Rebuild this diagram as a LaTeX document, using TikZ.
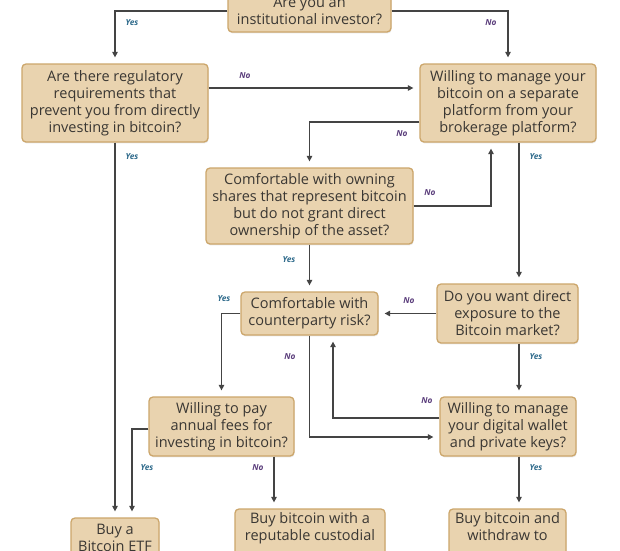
\documentclass[tikz,border=0pt]{standalone}
\usepackage{fontspec}
\setmainfont{Open Sans}
\usetikzlibrary{arrows.meta,shadows}
\definecolor{boxfill}{HTML}{E9D3AF}
\definecolor{boxline}{HTML}{CCA66B}
\definecolor{txtcol}{HTML}{3A3733}
\definecolor{wirecol}{HTML}{444444}
\definecolor{yescol}{HTML}{2F6B8C}
\definecolor{nocol}{HTML}{5B3E7C}
\begin{document}
\begin{tikzpicture}[x=1pt,y=-1pt,
  qbox/.style={draw=boxline, fill=boxfill, line width=1.3pt, rounded corners=4pt,
    align=center, text=txtcol, inner sep=0pt, font=\fontsize{14.5}{17}\selectfont,
    drop shadow={opacity=0.18, shadow xshift=0.6pt, shadow yshift=-1.4pt}},
  wire/.style={draw=wirecol, line width=1.25pt, -{Triangle[length=5.5pt,width=5.5pt]}, shorten >=6pt},
  yeslab/.style={text=yescol, font=\fontsize{8.3}{10}\selectfont\bfseries\itshape, inner sep=0pt},
  nolab/.style={text=nocol, font=\fontsize{8.3}{10}\selectfont\bfseries\itshape, inner sep=0pt}
]
\useasboundingbox (0,0) rectangle (620,550);
\fill[white] (0,0) rectangle (620,550);
\clip (0,0) rectangle (620,550);

% boxes
\node[qbox, minimum width=163pt, minimum height=42pt] (top) at (309.5,11) {Are you an\\institutional investor?};
\node[qbox, minimum width=186pt, minimum height=78pt] (reg) at (115,103) {Are there regulatory\\requirements that\\prevent you from directly\\investing in bitcoin?};
\node[qbox, minimum width=176pt, minimum height=78pt] (sep) at (508,103) {Willing to manage your\\bitcoin on a separate\\platform from your\\brokerage platform?};
\node[qbox, minimum width=207pt, minimum height=76pt] (own) at (309.5,206) {Comfortable with owning\\shares that represent bitcoin\\but do not grant direct\\ownership of the asset?};
\node[qbox, minimum width=137pt, minimum height=43pt] (cp) at (309.5,313.5) {Comfortable with\\counterparty risk?};
\node[qbox, minimum width=141pt, minimum height=59pt] (dyw) at (507.5,313.5) {Do you want direct\\exposure to the\\Bitcoin market?};
\node[qbox, minimum width=145pt, minimum height=59pt] (fees) at (221.5,426.5) {Willing to pay\\annual fees for\\investing in bitcoin?};
\node[qbox, minimum width=136pt, minimum height=59pt] (wal) at (508,426.5) {Willing to manage\\your digital wallet\\and private keys?};
\node[qbox, minimum width=88pt, minimum height=40pt] (etf) at (115,538) {Buy a\\Bitcoin ETF};
\node[qbox, minimum width=150pt, minimum height=58pt] (cust) at (310,538) {Buy bitcoin with a\\reputable custodial\\\strut};
\node[qbox, minimum width=117pt, minimum height=58pt] (self) at (507.5,538) {Buy bitcoin and\\withdraw to\\\strut};

% helper coordinates
\coordinate (col) at (519,0);
\coordinate (r1) at (0,88);
\coordinate (r2) at (0,122);
\coordinate (c2) at (491,0);
\coordinate (r3) at (0,437);
\coordinate (r4) at (0,418);
\coordinate (c3) at (333,0);
\coordinate (r5) at (0,429);
\coordinate (c4) at (132,0);
\coordinate (c5) at (274,0);

% connectors
\draw[wire] (top.west) -| (reg.north);
\draw[wire] (top.east) -| (sep.north);
\draw[wire] (reg.east |- r1) -- (sep.west |- r1);
\draw[wire] (sep.west |- r2) -| (own.north);
\draw[wire] (reg.south) -- (etf.north);
\draw[wire] (sep.south -| col) -- (dyw.north -| col);
\draw[wire] (own.east) -| (sep.south -| c2);
\draw[wire] (own.south) -- (cp.north);
\draw[wire] (dyw.west) -- (cp.east);
\draw[wire] (cp.west) -| (fees.north);
\draw[wire] (cp.south) |- (wal.west |- r3);
\draw[wire] (wal.west |- r4) -| (cp.south -| c3);
\draw[wire] (dyw.south -| col) -- (wal.north -| col);
\draw[wire] (fees.west |- r5) -| (etf.north -| c4);
\draw[wire] (fees.south -| c5) -- (cust.north -| c5);
\draw[wire] (wal.south -| col) -- (self.north -| col);

% labels
\node[yeslab] (l1) at (132,23) {Yes};
\node[nolab] (l2) at (491,23) {No};
\node[nolab] (l3) at (245,76) {No};
\node[nolab] (l4) at (402,134) {No};
\node[yeslab] (l5) at (132,157) {Yes};
\node[yeslab] (l6) at (536,157) {Yes};
\node[nolab] (l7) at (430,193) {No};
\node[yeslab] (l8) at (289,260) {Yes};
\node[yeslab] (l9) at (224,299) {Yes};
\node[nolab] (l10) at (409,301) {No};
\node[nolab] (l11) at (290,357) {No};
\node[yeslab] (l12) at (536,357) {Yes};
\node[nolab] (l13) at (427,401) {No};
\node[yeslab] (l14) at (147,468) {Yes};
\node[nolab] (l15) at (258,468) {No};
\node[yeslab] (l16) at (536,468) {Yes};
\end{tikzpicture}
\end{document}
